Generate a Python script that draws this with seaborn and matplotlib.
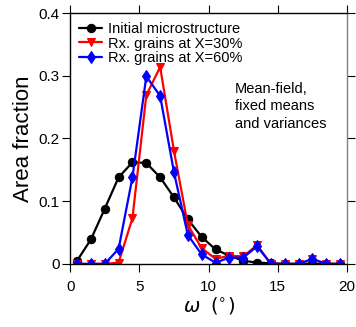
import numpy as np
import pandas as pd
import matplotlib
matplotlib.use("Agg")
import matplotlib.pyplot as plt
import seaborn as sns

# misorientation bin centres (deg)
omega = [0.5, 1.5, 2.5, 3.5, 4.5, 5.5, 6.5, 7.5, 8.5, 9.5,
         10.5, 11.5, 12.5, 13.5, 14.5, 15.5, 16.5, 17.5, 18.5, 19.5]

initial = [0.005, 0.039, 0.088, 0.138, 0.162, 0.161, 0.138, 0.106, 0.071, 0.043,
           0.023, 0.013, 0.005, 0.002, 0.001, 0.0, 0.0, 0.0, 0.0, 0.0]
rx30 = [0.0, 0.0, 0.0, 0.002, 0.073, 0.269, 0.314, 0.180, 0.062, 0.025,
        0.008, 0.013, 0.012, 0.030, 0.0, 0.0, 0.0, 0.007, 0.0, 0.0]
rx60 = [0.0, 0.0, 0.0, 0.024, 0.138, 0.299, 0.268, 0.146, 0.046, 0.015,
        0.002, 0.010, 0.010, 0.028, 0.0, 0.0, 0.0, 0.008, 0.0, 0.0]

labels = ["Initial microstructure", "Rx. grains at X=30%", "Rx. grains at X=60%"]
colors = ["black", "red", "blue"]
markers = ["o", "v", "d"]

sns.set_style("ticks")
plt.rcParams['font.family'] = ['Liberation Sans', 'DejaVu Sans']
plt.rcParams['mathtext.fontset'] = 'dejavusans'
plt.rcParams['text.color'] = 'black'
plt.rcParams['axes.labelcolor'] = 'black'
plt.rcParams['xtick.color'] = 'black'
plt.rcParams['ytick.color'] = 'black'

fig, ax = plt.subplots(figsize=(3.56, 3.27), dpi=100)
fig.subplots_adjust(left=0.197, right=0.975, top=0.96, bottom=0.193)

for vals, lab, c, m in zip([initial, rx30, rx60], labels, colors, markers):
    df = pd.DataFrame({"omega": omega, "frac": vals})
    sns.lineplot(data=df, x="omega", y="frac", ax=ax, color=c, marker=m,
                 markersize=6, markeredgecolor=c, linewidth=1.6, label=lab)

ax.set_xlim(0, 20)
ax.set_ylim(0, 0.4)
ax.set_xticks([0, 5, 10, 15, 20])
ax.set_yticks([0, 0.1, 0.2, 0.3, 0.4])
ax.set_yticklabels(["0", "0.1", "0.2", "0.3", "0.4"])
ax.tick_params(direction="out", top=True, right=True, labelsize=11, length=5.5,
               width=0.8)
ax.tick_params(axis="x", pad=6)
ax.tick_params(axis="y", pad=2)
for s in ax.spines.values():
    s.set_linewidth(1.0)
    s.set_color("black")
ax.spines["right"].set_color("0.5")

ax.set_xlabel(r"$\omega$  $(^{\circ})$", fontsize=14, labelpad=1)
ax.set_ylabel("Area fraction", fontsize=16, labelpad=3)

leg = ax.legend(loc="upper left", frameon=False, fontsize=10.5, handlelength=1.6,
                handletextpad=0.4, labelspacing=0.05, borderaxespad=0.4,
                borderpad=0.2)

ax.text(0.596, 0.725, "Mean-field,\nfixed means\nand variances",
        transform=ax.transAxes, fontsize=10.5, va="top", ha="left",
        linespacing=1.3)

fig.savefig("out.png", dpi=100)
